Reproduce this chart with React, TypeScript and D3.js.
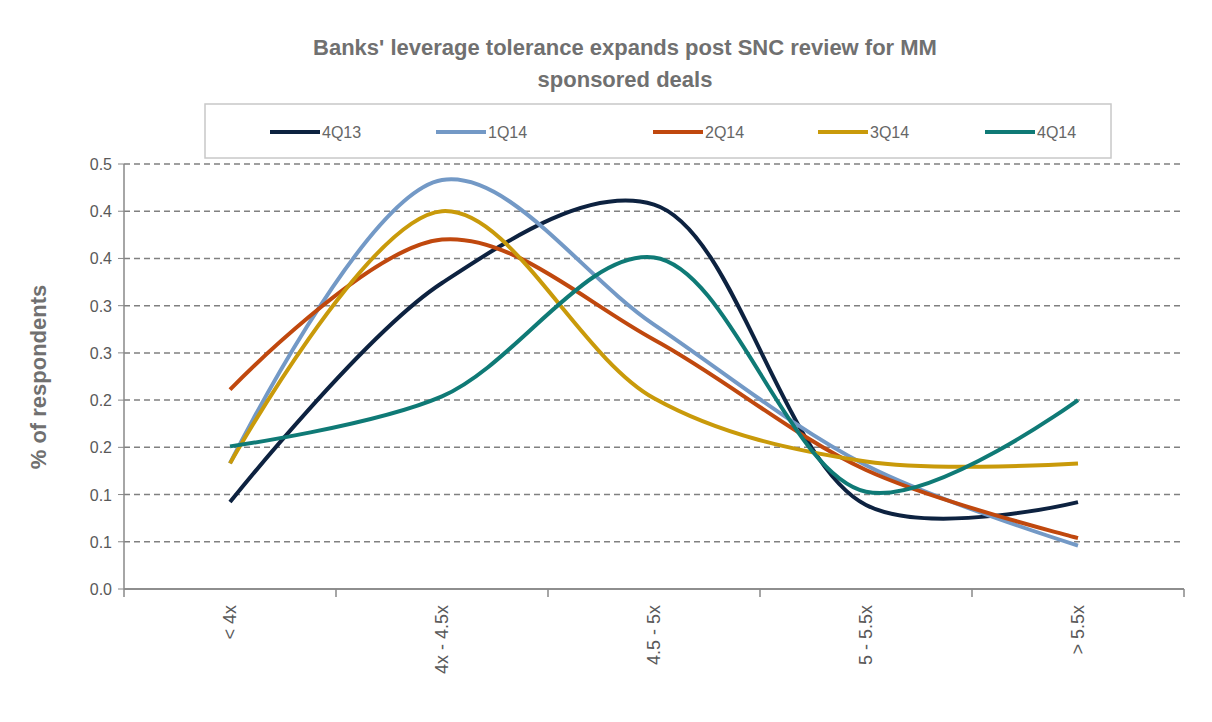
import React from "react";
import * as d3 from "d3";

const categories = ["< 4x", "4x - 4.5x", "4.5 - 5x", "5 - 5.5x", "> 5.5x"];
const seriesNames = ["4Q13", "1Q14", "2Q14", "3Q14", "4Q14"];
const v4Q13 = [0.092, 0.324, 0.407, 0.089, 0.092];
const v1Q14 = [0.133, 0.433, 0.28, 0.131, 0.046];
const v2Q14 = [0.211, 0.37, 0.264, 0.126, 0.054];
const v3Q14 = [0.133, 0.4, 0.202, 0.135, 0.133];
const v4Q14 = [0.151, 0.204, 0.351, 0.103, 0.2];
const tickValues = [0, 0.05, 0.1, 0.15, 0.2, 0.25, 0.3, 0.35, 0.4, 0.45];
const tickLabels = ["0.0", "0.1", "0.1", "0.2", "0.2", "0.3", "0.3", "0.4", "0.4", "0.5"];
const colors = ["#0d2240", "#7399c6", "#c0480e", "#c99a0a", "#0f7a76"];

const font = "'Liberation Sans', Arial, sans-serif";

export default function App() {
  const left = 124, right = 1184, top = 164, bottom = 589;
  const x = d3.scaleBand().domain(categories).range([left, right]);
  const y = d3.scaleLinear().domain([0, 0.45]).range([bottom, top]);
  const series = [v4Q13, v1Q14, v2Q14, v3Q14, v4Q14];
  const line = d3
    .line<number>()
    .x((_d, i) => x(categories[i])! + x.bandwidth() / 2)
    .y((d) => y(d))
    .curve(d3.curveCatmullRom.alpha(0.5));
  const legendText = [322, 488, 705, 870, 1037];
  return (
    <svg width={1196} height={706} style={{ display: "block", fontFamily: font }}>
      <g transform="translate(-8,-8)">
        <text x={625} y={55} textAnchor="middle" fontSize={22} fontWeight="bold" fill="#707070">
          Banks' leverage tolerance expands post SNC review for MM
        </text>
        <text x={625} y={87} textAnchor="middle" fontSize={22} fontWeight="bold" fill="#707070">
          sponsored deals
        </text>
        <rect x={205} y={104} width={906} height={54} fill="#fff" stroke="#c8c8c8" strokeWidth={1.5} />
        {seriesNames.map((n, i) => {
          const tx = legendText[i];
          return (
            <g key={n}>
              <line x1={tx - 52} x2={tx - 2} y1={132} y2={132} stroke={colors[i]} strokeWidth={4} />
              <text x={tx} y={138} fontSize={16} fill="#666">{n}</text>
            </g>
          );
        })}
        {tickValues.map((t, i) => (
          <g key={i}>
            <line x1={left} x2={right} y1={y(t)} y2={y(t)} stroke="#808080" strokeWidth={1.5} strokeDasharray={i > 0 ? "6,4" : undefined} />
            <line x1={left - 6} x2={left} y1={y(t)} y2={y(t)} stroke="#888" />
            <text x={left - 12} y={y(t) + 6} textAnchor="end" fontSize={16} fill="#595959">{tickLabels[i]}</text>
          </g>
        ))}
        <line x1={left} x2={left} y1={top} y2={bottom} stroke="#888" strokeWidth={1.5} />
        <line x1={left} x2={right} y1={bottom} y2={bottom} stroke="#888" strokeWidth={1.5} />
        {d3.range(categories.length + 1).map((i) => {
          const xx = left + i * x.bandwidth();
          return <line key={i} x1={xx} x2={xx} y1={bottom} y2={bottom + 8} stroke="#888" strokeWidth={1.5} />;
        })}
        {categories.map((c) => (
          <text key={c} transform={`translate(${x(c)! + x.bandwidth() / 2 + 6},605) rotate(-90)`} textAnchor="end" fontSize={18} fill="#595959">
            {c}
          </text>
        ))}
        <text transform="translate(46,377) rotate(-90)" textAnchor="middle" fontSize={22} fontWeight="bold" fill="#707070">
          % of respondents
        </text>
        {series.map((s, i) => (
          <path key={i} d={line(s)!} fill="none" stroke={colors[i]} strokeWidth={4} />
        ))}
      </g>
    </svg>
  );
}
